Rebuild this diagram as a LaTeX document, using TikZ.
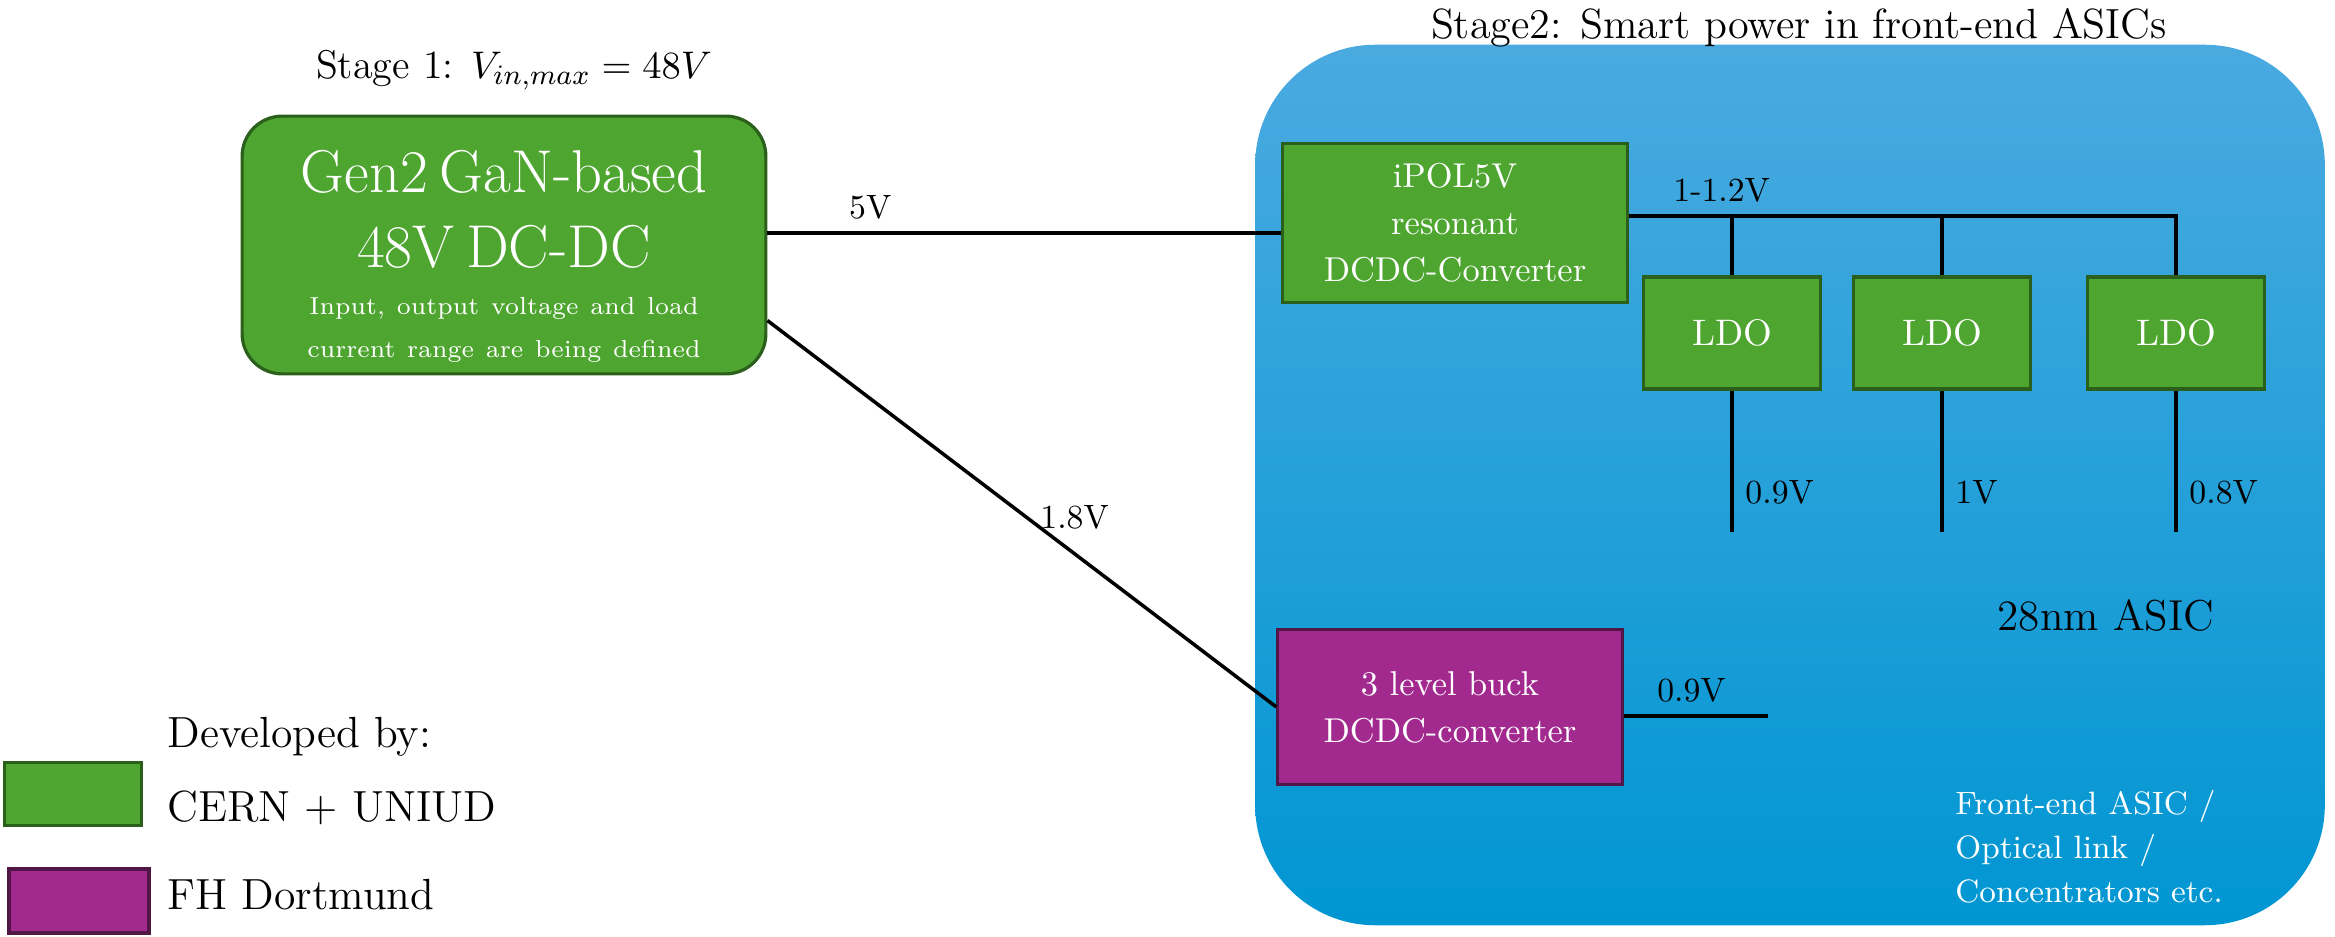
\documentclass[tikz,border=0pt]{standalone}
\usepackage{amsmath}
\usepackage{xcolor}
\usepackage{tikz}
\usetikzlibrary{positioning,calc}

\definecolor{gangreen}{RGB}{78,165,48}
\definecolor{gangreendark}{RGB}{42,95,28}
\definecolor{buckpurple}{RGB}{162,42,143}
\definecolor{buckpurpledark}{RGB}{80,22,70}
\definecolor{asictop}{RGB}{74,170,224}
\definecolor{asicbottom}{RGB}{0,150,210}

\begin{document}
\begin{tikzpicture}[x=0.01cm, y=-0.01cm,
    greenbox/.style={draw=gangreendark, fill=gangreen, line width=0.9pt, rectangle, text=white, align=center},
    purplebox/.style={draw=buckpurpledark, fill=buckpurple, line width=0.9pt, rectangle, text=white, align=center},
    ldobox/.style={greenbox, minimum width=1.77cm, minimum height=1.12cm, font=\fontsize{10.5}{12}\selectfont},
    volt/.style={font=\fontsize{9.6}{12}\selectfont},
    wire/.style={line width=1pt},
    legendtext/.style={anchor=west, font=\fontsize{12.4}{15}\selectfont}]

    \useasboundingbox (0,0) rectangle (2335,937);

    % Stage 2 area
    \node[rectangle, rounded corners=1.2cm, top color=asictop, bottom color=asicbottom, minimum width=10.69cm, minimum height=8.8cm] (asic) at (1790,485) {};
    \node[font=\fontsize{12}{14}\selectfont] (stagetwo) at (1799,28) {Stage2: Smart power in front-end ASICs};

    % Stage 1
    \node[greenbox, rounded corners=0.4cm, minimum width=5.22cm, minimum height=2.54cm, text width=5cm] (gen2) at (504,245) {%
        \fontsize{17.2}{21.3}\selectfont\rule{0pt}{18.5pt}Gen2 GaN-based\\48V DC-DC\par\vspace{3pt}
        \fontsize{7}{10.4}\selectfont Input, output voltage and load\\current range are being defined};
    \node[font=\fontsize{11.4}{14}\selectfont] (stageone) at (514,70) {Stage 1: $V_{in,max} = 48V$};

    % Converters
    \node[greenbox, minimum width=3.44cm, minimum height=1.59cm, font=\fontsize{9.8}{13.4}\selectfont] (ipol) at (1455,223) {iPOL5V\\resonant\\DCDC-Converter};
    \node[ldobox] (ldoA) at (1732,333) {LDO};
    \node[ldobox] (ldoB) at (1942,333) {LDO};
    \node[ldobox] (ldoC) at (2176,333) {LDO};
    \node[purplebox, minimum width=3.44cm, minimum height=1.55cm, font=\fontsize{9.8}{13.4}\selectfont] (buck) at (1450,707) {3 level buck\\DCDC-converter};

    \node[font=\fontsize{12.3}{15}\selectfont] (asicname) at (2106,616) {28nm ASIC};
    \node[text=white, align=left, anchor=west, font=\fontsize{9.2}{12.5}\selectfont] (frontend) at (1943,847) {Front-end ASIC /\\Optical link /\\Concentrators etc.};

    % Connections
    \coordinate (fivev) at (1000,233);
    \coordinate (busend) at (2176,216);
    \coordinate (outA) at (1732,532);
    \coordinate (outB) at (1942,532);
    \coordinate (outC) at (2176,532);
    \coordinate (buckout) at (1768,716);

    \draw[wire] (gen2.east |- fivev) -- node[volt, above, pos=0.2] {5V} (ipol.west |- fivev);
    \draw[wire] (gen2.-16) -- node[volt, pos=0.51, right] {1.8V} (buck.west);
    \draw[wire] (ipol.east |- busend) -- node[volt, above, pos=0.17] {1-1.2V} (busend) -- (ldoC.north);
    \draw[wire] (ldoA.north) -- (ldoA.north |- busend);
    \draw[wire] (ldoB.north) -- (ldoB.north |- busend);
    \draw[wire] (ldoA.south) -- node[volt, pos=0.72, anchor=west] {0.9V} (outA);
    \draw[wire] (ldoB.south) -- node[volt, pos=0.72, anchor=west] {1V} (outB);
    \draw[wire] (ldoC.south) -- node[volt, pos=0.72, anchor=west] {0.8V} (outC);
    \draw[wire] (buck.east |- buckout) -- node[volt, above, pos=0.47] {0.9V} (buckout);

    % Legend
    \node[greenbox, minimum width=1.37cm, minimum height=0.63cm] (legA) at (73,794) {};
    \node[purplebox, minimum width=1.40cm, minimum height=0.64cm] (legB) at (79,901) {};
    \node[legendtext] (devby) at (155,737) {Developed by:};
    \node[legendtext] (cern) at (155,808) {CERN + UNIUD};
    \node[legendtext] (fhdo) at (155,895) {FH Dortmund};
\end{tikzpicture}
\end{document}
